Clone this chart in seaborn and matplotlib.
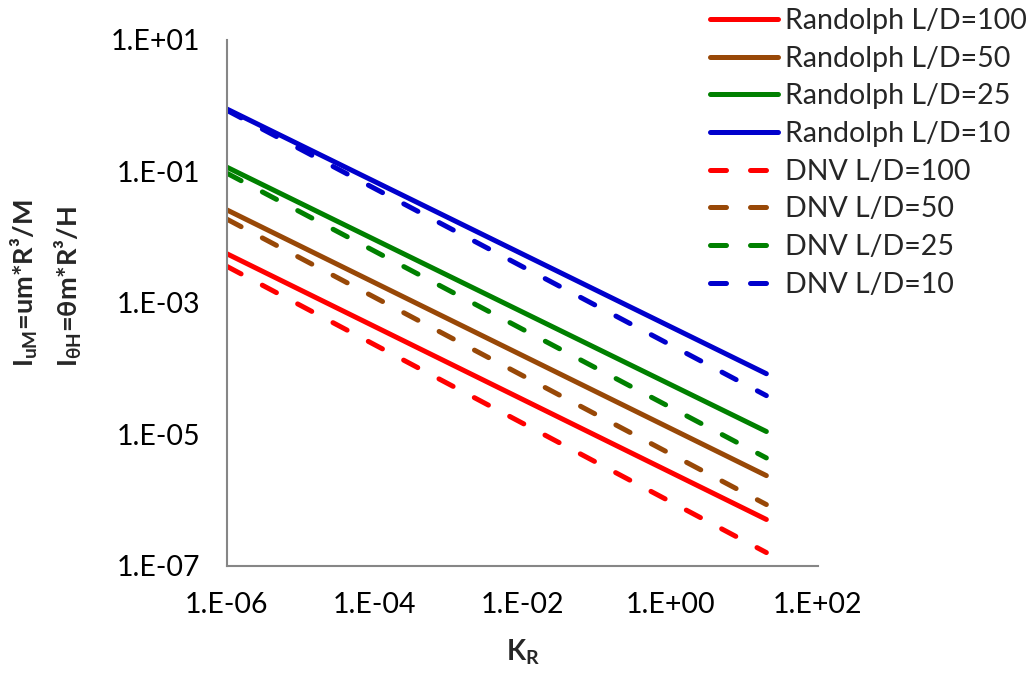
import numpy as np
import pandas as pd
import matplotlib
matplotlib.use("Agg")
import matplotlib.pyplot as plt
from matplotlib.ticker import FixedLocator, FuncFormatter, NullLocator
import seaborn as sns

# Relative stiffness range covered by every curve
kr_range = [1e-6, 20.0]

# Flexibility coefficient at each end of the KR range
randolph_100 = [5.6e-3, 5.1e-7]
randolph_50 = [2.6e-2, 2.37e-6]
randolph_25 = [1.16e-1, 1.11e-5]
randolph_10 = [8.9e-1, 8.4e-5]
dnv_100 = [3.6e-3, 1.6e-7]
dnv_50 = [1.88e-2, 8.6e-7]
dnv_25 = [9.4e-2, 4.4e-6]
dnv_10 = [8.5e-1, 3.9e-5]

series_labels = [
    "Randolph L/D=100", "Randolph L/D=50", "Randolph L/D=25", "Randolph L/D=10",
    "DNV L/D=100", "DNV L/D=50", "DNV L/D=25", "DNV L/D=10",
]
series_values = [randolph_100, randolph_50, randolph_25, randolph_10,
                 dnv_100, dnv_50, dnv_25, dnv_10]

x_ticks = [1e-6, 1e-4, 1e-2, 1e0, 1e2]
y_ticks = [1e-7, 1e-5, 1e-3, 1e-1, 1e1]

palette = ["#FF0000", "#984807", "#008000", "#0000CC"] * 2
solid = "-"
dashed = (0, (3.2, 4.8))
styles = [solid] * 4 + [dashed] * 4

records = []
for label, vals in zip(series_labels, series_values):
    for k, v in zip(kr_range, vals):
        records.append({"KR": k, "I": v, "series": label})
df = pd.DataFrame(records)

sns.set_theme(style="white")
plt.rcParams["font.family"] = ["Lato", "DejaVu Sans"]
plt.rcParams["mathtext.fontset"] = "custom"
plt.rcParams["mathtext.rm"] = "Lato:bold"
plt.rcParams["mathtext.bf"] = "Lato:bold"
plt.rcParams["mathtext.default"] = "bf"
plt.rcParams["mathtext.fallback"] = "stixsans"

fig = plt.figure(figsize=(10.34, 6.73), dpi=100)
ax = fig.add_axes([0.2195, 0.159, 0.5716, 0.7816])

lw = 3.6
for label, color, ls in zip(series_labels, palette, styles):
    sub = df[df["series"] == label]
    sns.lineplot(data=sub, x="KR", y="I", ax=ax, color=color, linewidth=lw,
                 linestyle=ls, dash_capstyle="round", solid_capstyle="round",
                 label=label, legend=False)

ax.set_xscale("log")
ax.set_yscale("log")
ax.set_xlim(1e-6, 1e2)
ax.set_ylim(1e-7, 1e1)

ax.xaxis.set_major_locator(FixedLocator(x_ticks))
ax.yaxis.set_major_locator(FixedLocator(y_ticks))
ax.xaxis.set_minor_locator(NullLocator())
ax.yaxis.set_minor_locator(NullLocator())
fmt = FuncFormatter(lambda v, pos: "1.E{:+03d}".format(int(round(np.log10(v)))))
ax.xaxis.set_major_formatter(fmt)
ax.yaxis.set_major_formatter(fmt)

spine_color = "#868686"
for side in ["top", "right"]:
    ax.spines[side].set_visible(False)
for side in ["left", "bottom"]:
    ax.spines[side].set_color(spine_color)
    ax.spines[side].set_linewidth(1.5)
ax.tick_params(axis="both", which="major", direction="out", length=7,
               width=1.5, color=spine_color, labelsize=20.5, labelcolor="black",
               pad=12)
ax.tick_params(axis="both", which="minor", length=0)

ax.set_xlabel("$K_R$", fontsize=20, fontweight="bold", labelpad=14)
ax.set_ylabel("$I_{uM}$=um*R³/M\n$I_{θH}$=θm*R³/H", fontsize=19.5,
              fontweight="bold", linespacing=1.5, multialignment="left")
ax.yaxis.set_label_coords(-0.242, 0.538)

handles = [plt.Line2D([], [], color=c, linewidth=lw, linestyle=s,
                      dash_capstyle="round", solid_capstyle="round")
           for c, s in zip(palette, styles)]
fig.legend(handles, series_labels, loc="upper left",
           bbox_to_anchor=(0.6756, 1.005), frameon=False, fontsize=20.5,
           handlelength=2.39, handletextpad=0.25, labelspacing=0.41,
           borderaxespad=0.0)

fig.savefig("out.png", dpi=100)
